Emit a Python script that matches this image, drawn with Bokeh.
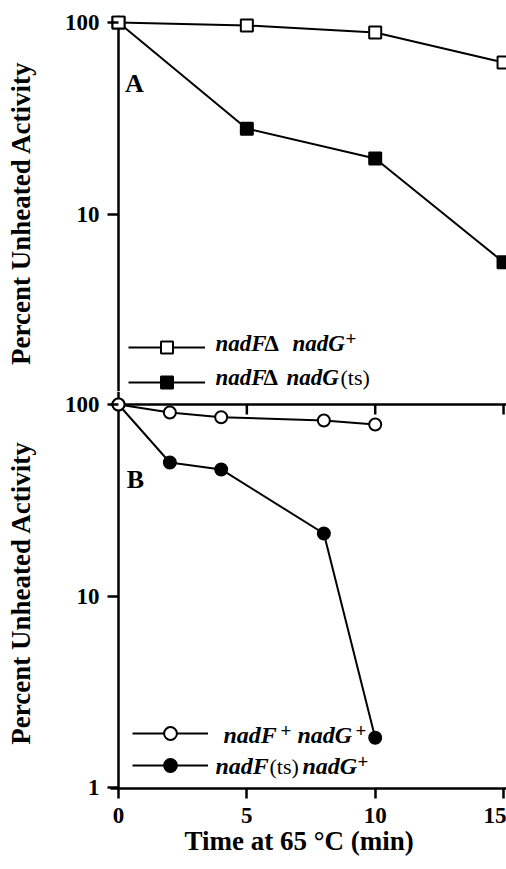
import math
from bokeh.plotting import figure
from bokeh.layouts import column
from bokeh.models import Range1d, FixedTicker, Span, Label, Legend, LegendItem
from bokeh.core.properties import value
from bokeh.embed import file_html
from bokeh.resources import INLINE

# ---------------- data ----------------
time_a = [0, 5, 10, 15]
pct_a_wt = [100, 96.5, 88.7, 61.8]      # nadFΔ nadG+  (open squares)
pct_a_ts = [100, 27.9, 19.5, 5.6]       # nadFΔ nadG(ts) (filled squares)
time_b = [0, 2, 4, 8, 10]
pct_b_wt = [100, 90.8, 85.8, 82.5, 78.6]   # nadF+ nadG+ (open circles)
pct_b_ts = [100, 49.8, 45.8, 21.2, 1.82]   # nadF(ts) nadG+ (filled circles)
x_ticks = [0, 5, 10, 15]
y_ticks_a = [10, 100]
y_ticks_b = [1, 10, 100]
y_title = "Percent Unheated Activity"
x_title = "Time at 65 °C (min)"

# ---------------- geometry (page px) ----------------
FONT = "Liberation Serif"
W = 506
FL = 110                 # frame left
X0PX, XS = 118, 25.67    # px of t = 0, px per minute
DEC = 191.5              # px per decade
A_TOP, A_BOT, A_100 = 15, 391, 22
B_TOP, B_BOT, B_100 = 391, 788, 404
H_TOTAL = 866
BASE_FIX = 0.36          # anchor sits this many em above the drawn baseline

x_start = -(X0PX - FL) / XS
x_end = 15 + (W - (X0PX + 15 * XS)) / XS


def yrange(top, bot, p100):
    return Range1d(10 ** (2 - (bot - p100) / DEC), 10 ** (2 + (p100 - top) / DEC))


def style_yaxis(p, ticks, label):
    ya = p.yaxis[0]
    ya.ticker = FixedTicker(ticks=ticks)
    ya.major_label_overrides = {t: str(t) for t in ticks}
    ya.axis_line_color = None
    ya.major_tick_line_width = 2.5
    ya.major_tick_line_color = "black"
    ya.major_tick_in = 8
    ya.major_tick_out = 3
    ya.minor_tick_line_color = None
    ya.major_label_text_font = FONT
    ya.major_label_text_font_style = "bold"
    ya.major_label_text_font_size = "23px"
    ya.major_label_text_color = "black"
    ya.major_label_standoff = 8
    ya.axis_label = label
    ya.axis_label_text_font = FONT
    ya.axis_label_text_font_style = "bold"
    ya.axis_label_text_font_size = "27px"
    ya.axis_label_text_color = "black"
    ya.axis_label_standoff = 26


def base(p):
    p.xgrid.visible = False
    p.ygrid.visible = False
    p.outline_line_color = None
    p.background_fill_color = "white"
    p.border_fill_color = "white"
    p.add_layout(Span(location=0, dimension="height", line_width=2.5,
                      line_color="black", level="underlay"))


def lab(p, fb, text, px, py, size, style="bold", align="left"):
    # py is the wanted baseline on the page
    p.add_layout(Label(x=px - FL, y=fb - (py - BASE_FIX * size),
                       x_units="screen", y_units="screen", text=text,
                       text_font=FONT, text_font_size=f"{size}px",
                       text_font_style=style, text_align=align,
                       text_baseline="alphabetic", text_color="black"))


def legend(p, fb, items, left, bottom, gw, gh, spacing):
    lg = Legend(items=[LegendItem(label=value(""), renderers=r) for r in items],
                location=(left - FL, fb - bottom), glyph_width=gw,
                glyph_height=gh, spacing=spacing, padding=0, margin=0,
                border_line_color=None, background_fill_alpha=0,
                label_text_font_size="1px", label_standoff=0,
                label_width=1, label_height=1)
    p.add_layout(lg)


# ---------------- panel A ----------------
pa = figure(width=W, height=A_BOT, x_range=Range1d(x_start, x_end),
            y_range=yrange(A_TOP, A_BOT, A_100), y_axis_type="log",
            x_axis_location=None, output_backend="svg", toolbar_location=None,
            min_border_left=FL, min_border_right=0, min_border_top=A_TOP,
            min_border_bottom=0)
base(pa)
style_yaxis(pa, y_ticks_a, y_title + "\u2002\u2009")

la2 = pa.line(time_a, pct_a_ts, line_width=2, color="black")
sa2 = pa.scatter(time_a, pct_a_ts, marker="square", size=12,
                 fill_color="black", line_color="black", line_width=2)
la1 = pa.line(time_a, pct_a_wt, line_width=2, color="black")
sa1 = pa.scatter(time_a, pct_a_wt, marker="square", size=12,
                 fill_color="white", line_color="black", line_width=2)

legend(pa, A_BOT, [[la1, sa1], [la2, sa2]], 128, 397, 77, 30, 5)
lab(pa, A_BOT, "A", 134, 92, 26, align="center")
lab(pa, A_BOT, "nadF", 215, 351, 23, style="bold italic")
lab(pa, A_BOT, "Δ", 264, 351, 23)
lab(pa, A_BOT, "nadG", 292, 351, 23, style="bold italic")
lab(pa, A_BOT, "+", 345, 345, 19)
lab(pa, A_BOT, "nadF", 215, 385, 23, style="bold italic")
lab(pa, A_BOT, "Δ", 263, 385, 23)
lab(pa, A_BOT, "nadG", 286, 385, 23, style="bold italic")
lab(pa, A_BOT, "(ts)", 340, 385, 22, style="normal")

# ---------------- panel B ----------------
pb = figure(width=W, height=H_TOTAL - B_TOP, x_range=Range1d(x_start, x_end),
            y_range=yrange(B_TOP, B_BOT, B_100), y_axis_type="log",
            output_backend="svg", toolbar_location=None,
            min_border_left=FL, min_border_right=0, min_border_top=0,
            min_border_bottom=H_TOTAL - B_BOT)
base(pb)
style_yaxis(pb, y_ticks_b, y_title + "\u2009")

xa = pb.xaxis[0]
xa.ticker = FixedTicker(ticks=x_ticks)
xa.major_label_overrides = {t: str(t) for t in x_ticks}
xa.axis_line_width = 2.5
xa.axis_line_color = "black"
xa.major_tick_line_width = 2.5
xa.major_tick_line_color = "black"
xa.major_tick_out = 10
xa.major_tick_in = 0
xa.minor_tick_line_color = None
xa.major_label_text_font = FONT
xa.major_label_text_font_style = "bold"
xa.major_label_text_font_size = "23px"
xa.major_label_text_color = "black"
xa.major_label_standoff = 9
xa.axis_label = x_title + "\u2002\u2009"
xa.axis_label_text_font = FONT
xa.axis_label_text_font_style = "bold"
xa.axis_label_text_font_size = "27px"
xa.axis_label_text_color = "black"
xa.axis_label_standoff = 0

# boundary between the panels (panel A's time axis)
pb.add_layout(Span(location=100, dimension="width", line_width=2.5,
                   line_color="black", level="underlay"))
pb.ray(x=x_ticks[1:], y=[100] * 3, length=10, length_units="screen",
       angle=-math.pi / 2, line_width=2.5, line_color="black")

lb2 = pb.line(time_b, pct_b_ts, line_width=2, color="black")
sb2 = pb.scatter(time_b, pct_b_ts, marker="circle", size=12,
                 fill_color="black", line_color="black", line_width=2)
lb1 = pb.line(time_b, pct_b_wt, line_width=2, color="black")
sb1 = pb.scatter(time_b, pct_b_wt, marker="circle", size=12,
                 fill_color="white", line_color="black", line_width=2)

legend(pb, B_BOT, [[lb1, sb1], [lb2, sb2]], 132, 781, 76, 32, 0)
lab(pb, B_BOT, "B", 135, 488, 26, align="center")
lab(pb, B_BOT, "nadF", 223, 743, 24, style="bold italic")
lab(pb, B_BOT, "+", 280, 737, 19)
lab(pb, B_BOT, "nadG", 297, 743, 24, style="bold italic")
lab(pb, B_BOT, "+", 355, 737, 19)
lab(pb, B_BOT, "nadF", 215, 774, 24, style="bold italic")
lab(pb, B_BOT, "(ts)", 269, 774, 22, style="normal")
lab(pb, B_BOT, "nadG", 302, 774, 24, style="bold italic")
lab(pb, B_BOT, "+", 357, 768, 19)

layout = column(pa, pb, spacing=0)
open("out.html", "w").write(file_html(layout, INLINE))
